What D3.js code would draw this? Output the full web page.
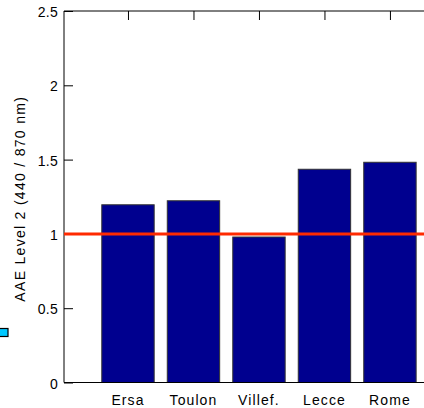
<!DOCTYPE html>
<html>
<head>
<meta charset="utf-8">
<script src="https://cdn.jsdelivr.net/npm/d3@7"></script>
<style>
  body { margin: 0; background: #fff; }
  text { font-family: "Liberation Sans", Arial, sans-serif; fill: #000; font-size: 14px; }
</style>
</head>
<body>
<svg id="chart" width="424" height="408"></svg>
<script>
const sites = ["Ersa", "Toulon", "Villef.", "Lecce", "Rome"];
const aae = [1.196, 1.223, 0.979, 1.435, 1.482];
const yTicks = [0, 0.5, 1, 1.5, 2, 2.5];
const refLevel = 1;

const svg = d3.select("#chart");
const padL = 64, padT = 11, padB = 382.5, padR = 424;

// category index 1..5 on a linear scale, like the original bar plot
const x = d3.scaleLinear().domain([0.023, 5.52]).range([padL, padR]);
const y = d3.scaleLinear().domain([0, 2.5]).range([padB, padT]);
const barW = x(1.8) - x(1);

// stray legend swatch at the left edge
svg.append("rect")
  .attr("x", -1).attr("y", 328.5).attr("width", 9).attr("height", 8)
  .attr("fill", "#00c8ff").attr("stroke", "#000").attr("stroke-width", 1.2);

svg.append("g")
  .selectAll("rect")
  .data(aae)
  .join("rect")
  .attr("x", (d, i) => x(i + 1) - barW / 2)
  .attr("y", d => y(d))
  .attr("width", barW)
  .attr("height", d => y(0) - y(d))
  .attr("fill", "#00008f")
  .attr("stroke", "#333")
  .attr("stroke-width", 1);

// axes box (top and left), ticks pointing inward
svg.append("path")
  .attr("d", `M${padR},${padT}H${padL}V${padB}H${padR}`)
  .attr("fill", "none").attr("stroke", "#000").attr("stroke-width", 1);

const yAxis = d3.axisRight(y).tickValues(yTicks).tickSize(9).tickFormat("");
svg.append("g")
  .attr("transform", `translate(${padL},0)`)
  .call(yAxis)
  .call(g => g.select(".domain").remove());

svg.append("g")
  .selectAll("text")
  .data(yTicks)
  .join("text")
  .attr("x", padL - 6)
  .attr("y", d => y(d) + 6)
  .attr("text-anchor", "end")
  .style("letter-spacing", "0.3px")
  .text(d => d3.format("")(d));

const topAxis = d3.axisBottom(x).tickValues([1, 2, 3, 4, 5]).tickSize(9).tickFormat("");
svg.append("g")
  .attr("transform", `translate(0,${padT})`)
  .call(topAxis)
  .call(g => g.select(".domain").remove());

svg.append("g")
  .selectAll("text")
  .data(sites)
  .join("text")
  .attr("x", (d, i) => x(i + 1))
  .attr("y", 405)
  .attr("text-anchor", "middle")
  .style("letter-spacing", "1.1px")
  .text(d => d);

// reference line
svg.append("line")
  .attr("x1", padL).attr("x2", padR)
  .attr("y1", y(refLevel)).attr("y2", y(refLevel))
  .attr("stroke", "#ff2a00").attr("stroke-width", 3);

svg.append("text")
  .attr("transform", `translate(25,${(padT + padB) / 2 + 2}) rotate(-90)`)
  .attr("text-anchor", "middle")
  .style("letter-spacing", "1.3px")
  .text("AAE Level 2 (440 / 870 nm)");
</script>
</body>
</html>
